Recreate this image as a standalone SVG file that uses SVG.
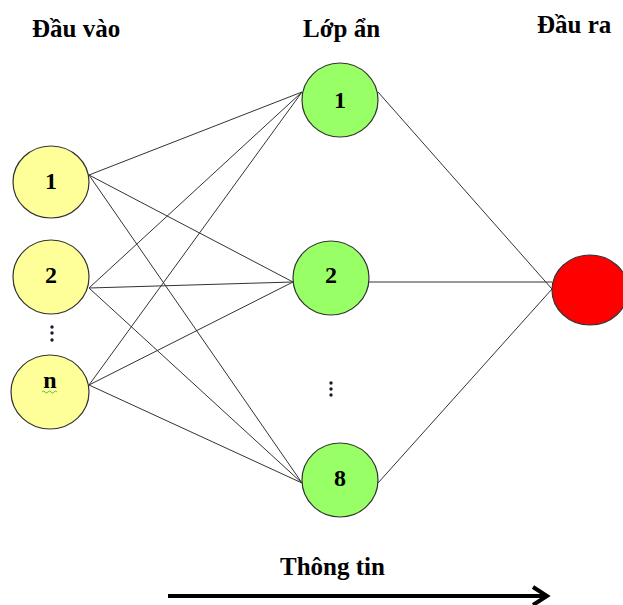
<svg xmlns="http://www.w3.org/2000/svg" width="623" height="605" viewBox="0 0 623 605">
<style>
text{font-family:'Liberation Serif','DejaVu Serif',serif;font-weight:bold;fill:#000}
.title{font-size:25px}
.num{font-size:24px;text-anchor:middle}
.in{fill:#ffff99;stroke:#333;stroke-width:1.2}
.hid{fill:#99ff66;stroke:#333;stroke-width:1.2}
.out{fill:#ff0000;stroke:#333;stroke-width:1.2}
.c line{stroke:#333;stroke-width:1}
.dot{fill:#1a1a2e}
</style>
<rect width="623" height="605" fill="#fff"/>
<g id="titles">
<text class="title" x="32" y="37">Đầu vào</text>
<text class="title" x="303" y="37">Lớp ẩn</text>
<text class="title" x="537" y="33">Đầu ra</text>
</g>
<g id="connectors" class="c">
<line x1="89" y1="175" x2="302" y2="92"/>
<line x1="89" y1="175" x2="293" y2="282"/>
<line x1="89" y1="175" x2="302" y2="483"/>
<line x1="89" y1="288" x2="302" y2="92"/>
<line x1="89" y1="288" x2="293" y2="282"/>
<line x1="89" y1="288" x2="302" y2="483"/>
<line x1="89" y1="385" x2="302" y2="92"/>
<line x1="89" y1="385" x2="293" y2="282"/>
<line x1="89" y1="385" x2="302" y2="483"/>
<line x1="378" y1="92" x2="552" y2="289"/>
<line x1="369" y1="282" x2="552" y2="282"/>
<line x1="378" y1="483" x2="552" y2="289"/>
</g>
<g id="in1"><ellipse class="in" cx="51" cy="182" rx="38" ry="36"/><text class="num" x="51" y="189">1</text></g>
<g id="in2"><ellipse class="in" cx="51" cy="277" rx="38" ry="37"/><text class="num" x="51" y="283">2</text></g>
<g id="indots"><circle class="dot" cx="52" cy="327" r="1.7"/><circle class="dot" cx="52" cy="333" r="1.7"/><circle class="dot" cx="52" cy="340" r="1.7"/></g>
<g id="inn"><ellipse class="in" cx="50" cy="392" rx="39" ry="37"/><text class="num" x="50" y="388">n</text><path d="M42 392 q1.5 -2 3 0 t3 0 t3 0 t3 0 t3 0" fill="none" stroke="#33aa33" stroke-width="0.8"/></g>
<g id="h1"><ellipse class="hid" cx="340" cy="100" rx="38" ry="37"/><text class="num" x="340" y="108">1</text></g>
<g id="h2"><ellipse class="hid" cx="331" cy="278" rx="38" ry="37"/><text class="num" x="331" y="283">2</text></g>
<g id="hdots"><circle class="dot" cx="331" cy="383" r="1.7"/><circle class="dot" cx="331" cy="389" r="1.7"/><circle class="dot" cx="331" cy="395" r="1.7"/></g>
<g id="h8"><ellipse class="hid" cx="340" cy="480" rx="38" ry="37"/><text class="num" x="340" y="486">8</text></g>
<g id="out"><ellipse class="out" cx="590" cy="290" rx="38" ry="35"/></g>
<g id="flow">
<text class="title" x="280" y="575">Thông tin</text>
<line x1="168" y1="596" x2="545" y2="596" stroke="#000" stroke-width="4"/>
<path d="M533 587 L547 596 L533 605" fill="none" stroke="#000" stroke-width="4"/>
</g>
</svg>
